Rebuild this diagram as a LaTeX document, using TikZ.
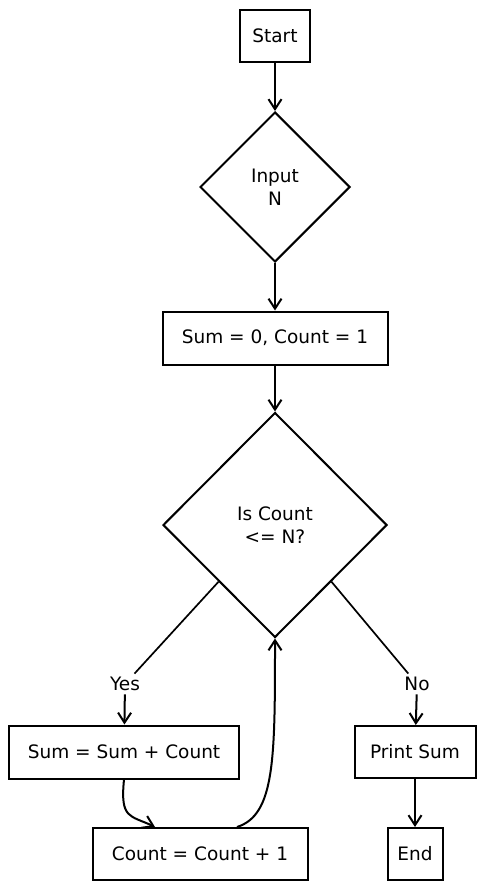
\documentclass[tikz,border=0pt]{standalone}
\usepackage{fontspec}
\setmainfont{DejaVu Sans}
\usetikzlibrary{shapes.geometric,arrows.meta}
\begin{document}
\begin{tikzpicture}[x=1pt,y=-1pt,
  every node/.style={font=\fontsize{18.5}{23}\selectfont},
  box/.style={draw, line width=2pt, inner sep=0pt},
  cond/.style={draw, diamond, line width=2pt, inner sep=0pt, align=center},
  arrow/.style={line width=2pt, -{Straight Barb[length=10pt,width=13pt,line width=2pt]}},
  link/.style={line width=1.7pt}]
\useasboundingbox (0,0) rectangle (486,890);
\node[box, minimum width=70, minimum height=52] (start) at (275,36){Start};
\node[cond, minimum width=150, minimum height=150] (input) at (275,187){Input\\N};
\draw[arrow](start) -- (input);
\node[box, minimum width=225, minimum height=53] (init) at (275,338){Sum = 0, Count = 1};
\draw[arrow](input) -- (init);
\node[cond, minimum width=224, minimum height=225] (test) at (275,525){Is Count\\<= N?};
\draw[arrow](init) -- (test);
\node (yes) at (125,684){Yes};
\node (no) at (417,684){No};
\draw[link](test.south west) -- (yes);
\draw[link](test.south east) -- (no);
\node[box, minimum width=230, minimum height=53] (add) at (124,752){Sum = Sum + Count};
\node[box, minimum width=121, minimum height=52] (print) at (415,752){Print Sum};
\draw[arrow](yes) -- (add);
\draw[arrow](no) -- (print);
\node[box, minimum width=215, minimum height=52] (step) at (200,854){Count = Count + 1};
\node[box, minimum width=55, minimum height=52] (stop) at (415,854){End};
\draw[arrow](print) -- (stop);
\draw[arrow](add.south) .. controls +(-4,40) and +(-25,-12) .. ([xshift=-45]step.north);
\draw[arrow]([xshift=37]step.north) .. controls +(38,-12) and +(0,120) .. (test.south);
\end{tikzpicture}
\end{document}
